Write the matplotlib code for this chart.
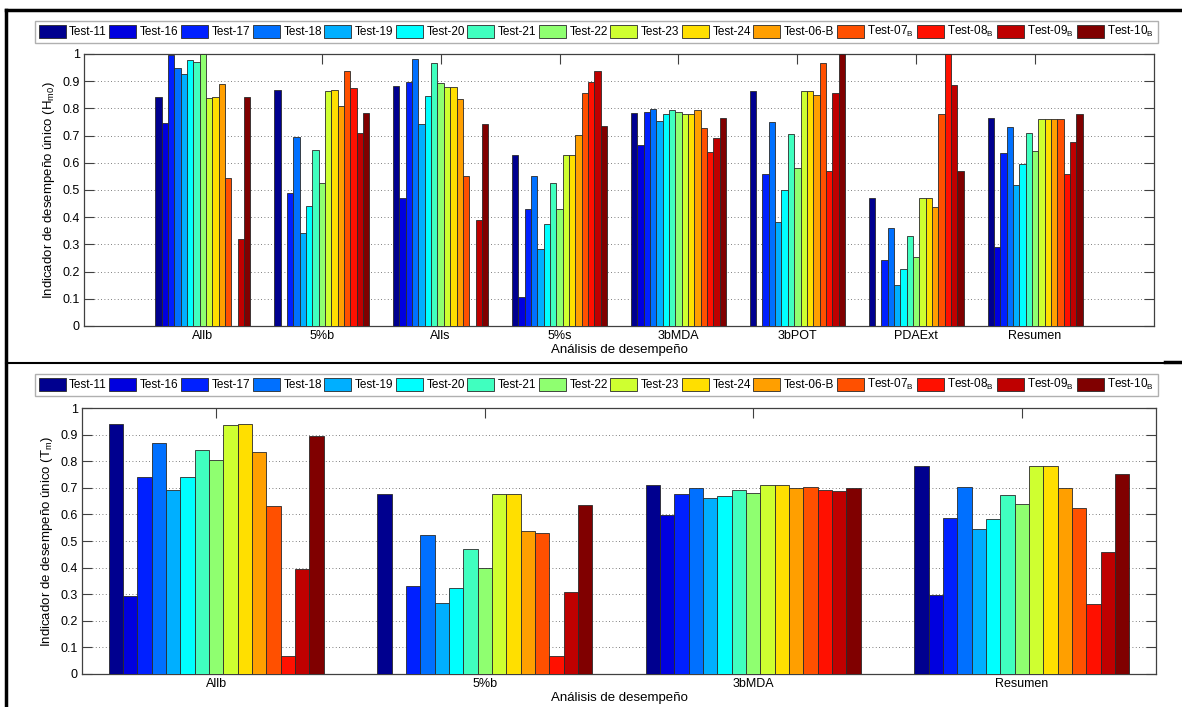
import matplotlib
matplotlib.use("Agg")
import matplotlib.pyplot as plt
import numpy as np

plt.rcParams['font.family'] = ['Liberation Sans', 'DejaVu Sans']
plt.rcParams['mathtext.fontset'] = 'custom'
plt.rcParams['mathtext.rm'] = 'Liberation Sans'
plt.rcParams['mathtext.it'] = 'Liberation Sans'

# series (legend)
tests = ['Test-11', 'Test-16', 'Test-17', 'Test-18', 'Test-19', 'Test-20', 'Test-21',
         'Test-22', 'Test-23', 'Test-24', 'Test-06-B', 'Test-07$_B$', 'Test-08$_B$',
         'Test-09$_B$', 'Test-10$_B$']

# top panel: Hm0
cats_hm0 = ['Allb', '5%b', 'Alls', '5%s', '3bMDA', '3bPOT', 'PDAExt', 'Resumen']
hm0_allb = [0.843, 0.748, 0.995, 0.949, 0.928, 0.977, 0.971, 0.999, 0.839, 0.843, 0.888, 0.544, 0.0, 0.320, 0.843]
hm0_5b = [0.868, 0.0, 0.490, 0.696, 0.341, 0.442, 0.646, 0.526, 0.864, 0.868, 0.809, 0.939, 0.875, 0.710, 0.782]
hm0_alls = [0.881, 0.472, 0.897, 0.983, 0.744, 0.846, 0.968, 0.895, 0.877, 0.880, 0.835, 0.553, 0.0, 0.391, 0.744]
hm0_5s = [0.630, 0.107, 0.431, 0.553, 0.284, 0.376, 0.526, 0.429, 0.630, 0.630, 0.703, 0.855, 0.897, 0.936, 0.737]
hm0_3bmda = [0.782, 0.667, 0.788, 0.799, 0.755, 0.778, 0.794, 0.787, 0.781, 0.781, 0.795, 0.729, 0.641, 0.691, 0.763]
hm0_3bpot = [0.864, 0.0, 0.558, 0.750, 0.381, 0.501, 0.706, 0.582, 0.864, 0.864, 0.850, 0.968, 0.571, 0.858, 1.0]
hm0_pdaext = [0.472, 0.0, 0.243, 0.360, 0.152, 0.211, 0.330, 0.254, 0.471, 0.471, 0.437, 0.778, 1.0, 0.886, 0.571]
hm0_resumen = [0.763, 0.292, 0.637, 0.732, 0.520, 0.597, 0.711, 0.645, 0.762, 0.762, 0.762, 0.762, 0.558, 0.678, 0.778]

# bottom panel: Tm
cats_tm = ['Allb', '5%b', '3bMDA', 'Resumen']
tm_allb = [0.939, 0.292, 0.739, 0.867, 0.692, 0.739, 0.841, 0.805, 0.936, 0.939, 0.835, 0.630, 0.068, 0.396, 0.895]
tm_5b = [0.675, 0.0, 0.330, 0.523, 0.267, 0.322, 0.471, 0.400, 0.675, 0.675, 0.536, 0.530, 0.068, 0.308, 0.634]
tm_3bmda = [0.711, 0.599, 0.675, 0.698, 0.660, 0.670, 0.692, 0.682, 0.711, 0.711, 0.700, 0.704, 0.690, 0.687, 0.700]
tm_resumen = [0.782, 0.297, 0.588, 0.702, 0.546, 0.584, 0.674, 0.638, 0.782, 0.782, 0.698, 0.623, 0.264, 0.459, 0.751]

# matlab jet(64) colours picked for 15 series
colores = [(0, 0, 0.5625), (0, 0, 0.875), (0, 0.125, 1), (0, 0.4375, 1), (0, 0.6875, 1),
           (0, 1, 1), (0.25, 1, 0.75), (0.5625, 1, 0.4375), (0.8125, 1, 0.1875),
           (1, 0.875, 0), (1, 0.625, 0), (1, 0.3125, 0), (1, 0.0625, 0), (0.75, 0, 0), (0.5, 0, 0)]

W, H = 1182, 707
fig = plt.figure(figsize=(W / 100, H / 100), dpi=100)


def fx(px):
    return px / W


def fy(py):
    return 1 - py / H


def panel(rect, cats, filas, xlim, ylabel, leg_y0, leg_y1):
    ax = fig.add_axes(rect)
    n = len(tests)
    w = 0.8 / n
    xc = np.arange(1, len(cats) + 1)
    for j in range(n):
        vals = [fila[j] for fila in filas]
        ax.bar(xc + (j - (n - 1) / 2) * w, vals, w, color=colores[j], edgecolor='#2a2a2a',
               linewidth=0.6, label=tests[j], zorder=3)
    ax.set_xlim(*xlim)
    ax.set_ylim(0, 1)
    ax.set_yticks(np.arange(0, 1.01, 0.1))
    ax.set_yticklabels(['0'] + ['%.1f' % v for v in np.arange(0.1, 0.95, 0.1)] + ['1'])
    ax.set_xticks(xc)
    ax.set_xticklabels(cats)
    ax.yaxis.grid(True, linestyle=(0, (1, 3)), color='#555555', linewidth=0.6)
    ax.set_axisbelow(True)
    ax.tick_params(direction='in', top=True, right=True, length=7, width=0.8,
                   labelsize=9, color='#404040', pad=3)
    for s in ax.spines.values():
        s.set_color('#404040')
        s.set_linewidth(0.9)
    ax.set_ylabel(ylabel, fontsize=9.5, labelpad=4)
    ax.set_xlabel('Análisis de desempeño', fontsize=9.5, labelpad=1)
    fig.legend(*ax.get_legend_handles_labels(), loc='lower left', ncol=n, mode='expand',
               bbox_to_anchor=(fx(35), fy(leg_y1), fx(1158 - 35), (leg_y1 - leg_y0) / H),
               borderaxespad=0, fontsize=8.5, handlelength=2.3, handleheight=1.3,
               handletextpad=0.3, columnspacing=0.4, fancybox=False, edgecolor='#b0b0b0',
               framealpha=1, borderpad=0.3)
    return ax


panel([fx(84), fy(326), fx(1154 - 84), (326 - 54) / H], cats_hm0,
      [hm0_allb, hm0_5b, hm0_alls, hm0_5s, hm0_3bmda, hm0_3bpot, hm0_pdaext, hm0_resumen],
      (0, 9), 'Indicador de desempeño único (H$_{m0}$)', 18, 43)

panel([fx(82), fy(674), fx(1156 - 82), (674 - 408) / H], cats_tm,
      [tm_allb, tm_5b, tm_3bmda, tm_resumen],
      (0.5, 4.5), 'Indicador de desempeño único (T$_m$)', 371, 396)

# black frame of the screenshot
fig.add_artist(plt.Line2D([fx(6), 1], [fy(10), fy(10)], color='k', lw=2.5))
fig.add_artist(plt.Line2D([fx(6), fx(6)], [fy(10), 0], color='k', lw=2.5))
fig.add_artist(plt.Line2D([fx(6), fx(1165)], [fy(363), fy(363)], color='k', lw=1.5))
fig.add_artist(plt.Line2D([fx(1165), 1], [fy(362), fy(362)], color='k', lw=2.5))

fig.savefig('out.png', dpi=100)
